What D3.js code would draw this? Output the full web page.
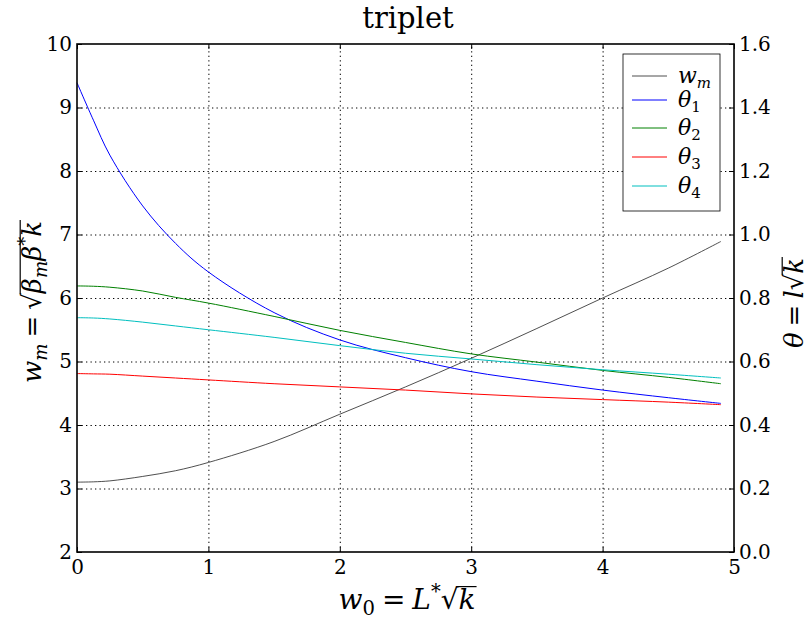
<!DOCTYPE html>
<html>
<head>
<meta charset="utf-8">
<script src="https://cdn.jsdelivr.net/npm/d3@7"></script>
<style>
  body { margin: 0; background: #fff; }
  svg { display: block; }
  text { font-family: "DejaVu Serif", serif; fill: #000; }
</style>
</head>
<body>
<svg id="chart" width="811" height="628"></svg>
<script>
"use strict"

// sample positions along w0
const xValues = [0, 0.125, 0.25, 0.5, 0.75, 1, 1.5, 2, 2.5, 3, 3.5, 4, 4.5, 4.9];

// w_m (left axis)
const wm = [3.10, 3.105, 3.12, 3.19, 3.28, 3.41, 3.74, 4.17, 4.60, 5.05, 5.52, 6.00, 6.47, 6.89];

// theta series (right axis)
const theta1 = [1.478, 1.36, 1.25, 1.09, 0.972, 0.882, 0.754, 0.668, 0.612, 0.568, 0.538, 0.510, 0.486, 0.468];
const theta2 = [0.838, 0.837, 0.834, 0.822, 0.802, 0.784, 0.742, 0.698, 0.660, 0.624, 0.598, 0.572, 0.550, 0.530];
const theta3 = [0.562, 0.561, 0.560, 0.554, 0.548, 0.542, 0.530, 0.520, 0.510, 0.498, 0.488, 0.480, 0.472, 0.464];
const theta4 = [0.738, 0.737, 0.734, 0.724, 0.712, 0.700, 0.676, 0.650, 0.626, 0.608, 0.590, 0.574, 0.560, 0.548];

const xTicks = [0, 1, 2, 3, 4, 5];
const leftTicks = [2, 3, 4, 5, 6, 7, 8, 9, 10];
const rightTicks = [0, 0.2, 0.4, 0.6, 0.8, 1.0, 1.2, 1.4, 1.6];

const seriesNames = ["w_m", "θ_1", "θ_2", "θ_3", "θ_4"];
const seriesColors = ["#000000", "#0000ff", "#008000", "#ff0000", "#00bfbf"];

const svg = d3.select("#chart");
const pLeft = 77, pRight = 734, pTop = 44, pBottom = 552;

const x = d3.scaleLinear().domain([0, 5]).range([pLeft, pRight]);
const yL = d3.scaleLinear().domain([2, 10]).range([pBottom, pTop]);
const yR = d3.scaleLinear().domain([0, 1.6]).range([pBottom, pTop]);

// grid
svg.append("g")
    .attr("transform", `translate(0,${pBottom})`)
    .call(d3.axisBottom(x).tickValues(xTicks.slice(1, -1)).tickSize(-(pBottom - pTop)).tickFormat(""))
    .call(g => g.select(".domain").remove())
    .selectAll("line").attr("stroke", "#000").attr("stroke-width", 1).attr("stroke-dasharray", "1.3,3.2");
svg.append("g")
    .attr("transform", `translate(${pLeft},0)`)
    .call(d3.axisLeft(yL).tickValues(leftTicks.slice(1, -1)).tickSize(-(pRight - pLeft)).tickFormat(""))
    .call(g => g.select(".domain").remove())
    .selectAll("line").attr("stroke", "#000").attr("stroke-width", 1).attr("stroke-dasharray", "1.3,3.2");

// lines
const lineL = d3.line().x((d, i) => x(xValues[i])).y(d => yL(d)).curve(d3.curveCatmullRom);
const lineR = d3.line().x((d, i) => x(xValues[i])).y(d => yR(d)).curve(d3.curveCatmullRom);

svg.append("path").attr("d", lineL(wm)).attr("fill", "none").attr("stroke", "#222").attr("stroke-width", 0.8);
[theta1, theta2, theta3, theta4].forEach((s, i) => {
    svg.append("path").attr("d", lineR(s)).attr("fill", "none")
        .attr("stroke", seriesColors[i + 1]).attr("stroke-width", 1);
});

// axes with inward ticks
const tickFont = 20;
function styleAxis(g) {
    g.select(".domain").remove();
    g.selectAll("line").attr("stroke", "#000").attr("stroke-width", 1);
    g.selectAll("text").attr("font-size", tickFont).attr("font-family", "DejaVu Serif");
}
svg.append("g").attr("transform", `translate(0,${pBottom})`)
    .call(d3.axisBottom(x).tickValues(xTicks).tickSize(-5).tickPadding(8).tickFormat(d3.format("d")))
    .call(styleAxis);
svg.append("g").attr("transform", `translate(0,${pTop})`)
    .call(d3.axisTop(x).tickValues(xTicks).tickSize(-5).tickFormat(""))
    .call(styleAxis);
svg.append("g").attr("transform", `translate(${pLeft},0)`)
    .call(d3.axisLeft(yL).tickValues(leftTicks).tickSize(-5).tickPadding(5).tickFormat(d3.format("d")))
    .call(styleAxis);
svg.append("g").attr("transform", `translate(${pRight},0)`)
    .call(d3.axisRight(yR).tickValues(rightTicks).tickSize(-5).tickPadding(5).tickFormat(d3.format(".1f")))
    .call(styleAxis);

// frame
svg.append("rect").attr("x", pLeft).attr("y", pTop).attr("width", pRight - pLeft).attr("height", pBottom - pTop)
    .attr("fill", "none").attr("stroke", "#000").attr("stroke-width", 1.6);

// math text helper: parts laid out one after another
function drawMath(g, parts, size) {
    let cx = 0;
    const overs = [];
    parts.forEach(p => {
        const fs = (p.sub || p.sup) ? size * 0.7 : size;
        const dy = p.sub ? size * 0.22 : p.sup ? -size * 0.38 : 0;
        const t = g.append("text")
            .attr("x", cx).attr("y", dy)
            .attr("font-size", fs)
            .attr("font-style", p.it ? "italic" : "normal")
            .text(p.t);
        const w = t.node().getComputedTextLength();
        if (p.over) overs.push([cx, cx + w]);
        cx += w + (p.gap || 0);
    });
    if (overs.length) {
        g.append("line")
            .attr("x1", overs[0][0] - 1).attr("x2", overs[overs.length - 1][1] + 1)
            .attr("y1", -size * 0.8).attr("y2", -size * 0.8)
            .attr("stroke", "#000").attr("stroke-width", 1.2);
    }
    g.selectAll("*").attr("transform", `translate(${-cx / 2},0)`);
    return cx;
}

// title
svg.append("text").attr("x", 408).attr("y", 28).attr("text-anchor", "middle")
    .attr("font-size", 29).text("triplet");

// x label
drawMath(svg.append("g").attr("transform", "translate(407,609)"), [
    { t: "w", it: true }, { t: "0", sub: true, gap: 7 },
    { t: "=", gap: 7 }, { t: "L", it: true }, { t: "*", sup: true },
    { t: "√" }, { t: "k", it: true, over: true }
], 28);

// left label
drawMath(svg.append("g").attr("transform", "translate(41,302) rotate(-90)"), [
    { t: "w", it: true }, { t: "m", it: true, sub: true, gap: 6 },
    { t: "=", gap: 6 }, { t: "√" },
    { t: "β", it: true, over: true }, { t: "m", it: true, sub: true, over: true },
    { t: "β", it: true, over: true }, { t: "*", sup: true, over: true }, { t: "k", it: true, over: true }
], 26);

// right label
drawMath(svg.append("g").attr("transform", "translate(803,303) rotate(-90)"), [
    { t: "θ", it: true, gap: 6 }, { t: "=", gap: 6 }, { t: "l", it: true },
    { t: "√" }, { t: "k", it: true, over: true }
], 26);

// legend
const legend = svg.append("g");
legend.append("rect").attr("x", 623).attr("y", 54).attr("width", 97).attr("height", 157)
    .attr("fill", "#fff").attr("stroke", "#000").attr("stroke-width", 0.8);
const legendRows = [76, 100, 128, 157, 186];
seriesNames.forEach((name, i) => {
    const y = legendRows[i];
    legend.append("line").attr("x1", 632).attr("x2", 667).attr("y1", y).attr("y2", y)
        .attr("stroke", i === 0 ? "#222" : seriesColors[i]).attr("stroke-width", i === 0 ? 0.8 : 1);
    const [base, sub] = name.split("_");
    const g = legend.append("g").attr("transform", `translate(678,${y + 7})`);
    g.append("text").attr("font-size", 22).attr("font-style", "italic").text(base)
        .append("tspan").attr("font-size", 15).attr("dy", 5).attr("font-style", sub === "m" ? "italic" : "normal").text(sub);
});
</script>
</body>
</html>
